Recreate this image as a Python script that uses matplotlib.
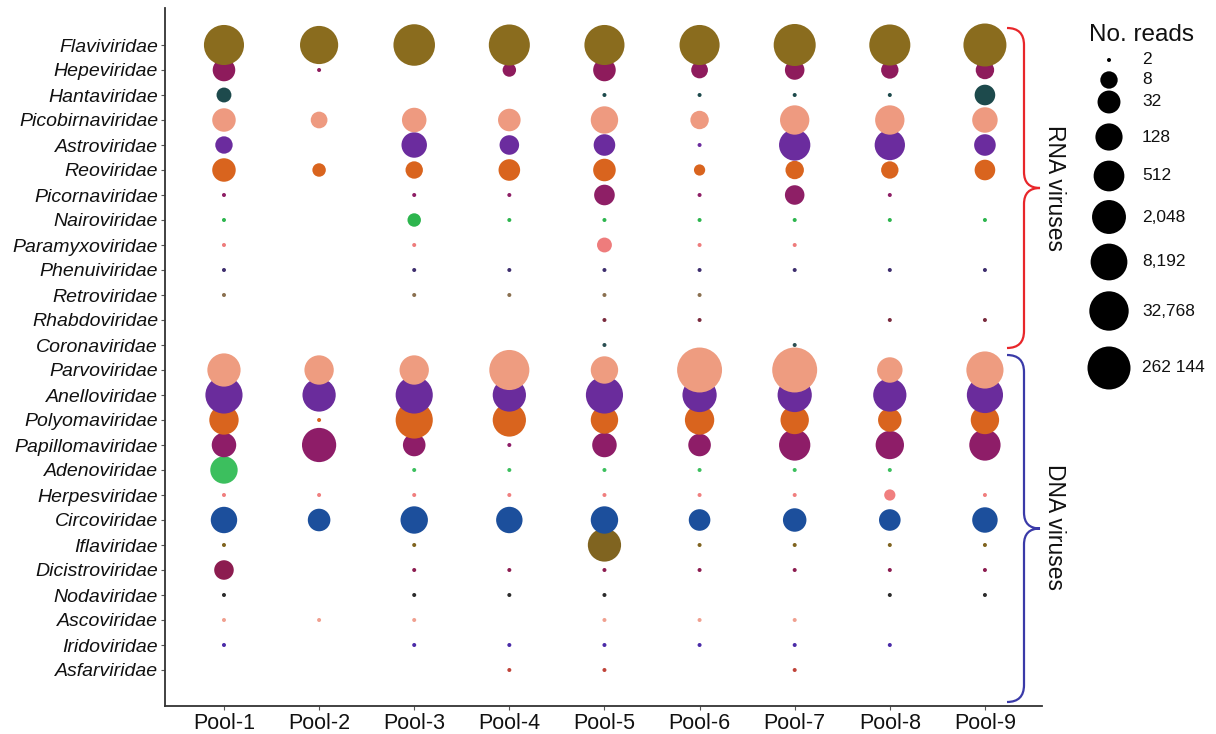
import numpy as np
import matplotlib
matplotlib.use("Agg")
import matplotlib.pyplot as plt
from matplotlib.path import Path
from matplotlib.patches import PathPatch

plt.rcParams["font.family"] = ["Liberation Sans", "DejaVu Sans"]

pools = ["Pool-1", "Pool-2", "Pool-3", "Pool-4", "Pool-5",
         "Pool-6", "Pool-7", "Pool-8", "Pool-9"]

families = ["Flaviviridae", "Hepeviridae", "Hantaviridae", "Picobirnaviridae",
            "Astroviridae", "Reoviridae", "Picornaviridae", "Nairoviridae",
            "Paramyxoviridae", "Phenuiviridae", "Retroviridae", "Rhabdoviridae",
            "Coronaviridae", "Parvoviridae", "Anelloviridae", "Polyomaviridae",
            "Papillomaviridae", "Adenoviridae", "Herpesviridae", "Circoviridae",
            "Iflaviridae", "Dicistroviridae", "Nodaviridae", "Ascoviridae",
            "Iridoviridae", "Asfarviridae"]

# number of reads per family and pool (0 = not detected)
flaviviridae     = [48000, 17000, 110000, 83000, 48000, 48000, 146000, 83000, 262000]
hepeviridae      = [29, 2, 0, 4, 29, 7, 13, 8, 10]
hantaviridae     = [5, 0, 0, 0, 2, 2, 2, 2, 17]
picobirnaviridae = [38, 7, 52, 29, 139, 10, 290, 290, 71]
astroviridae     = [8, 0, 71, 13, 22, 2, 643, 430, 22]
reoviridae       = [38, 4, 8, 22, 29, 3, 10, 8, 17]
picornaviridae   = [2, 0, 2, 2, 17, 2, 13, 2, 0]
nairoviridae     = [2, 0, 4, 2, 2, 2, 2, 2, 2]
paramyxoviridae  = [2, 0, 2, 0, 5, 2, 2, 0, 0]
phenuiviridae    = [2, 0, 2, 2, 2, 2, 2, 2, 2]
retroviridae     = [2, 0, 2, 2, 2, 2, 0, 0, 0]
rhabdoviridae    = [0, 0, 0, 0, 2, 2, 0, 2, 2]
coronaviridae    = [0, 0, 0, 0, 2, 0, 2, 0, 0]
parvoviridae     = [1510, 290, 290, 47900, 139, 876000, 876000, 71, 9950]
anelloviridae    = [9950, 1510, 9950, 1510, 9950, 2370, 2370, 1510, 6080]
polyomaviridae   = [290, 2, 9950, 1510, 139, 290, 199, 38, 199]
papillomaviridae = [52, 2370, 29, 2, 52, 29, 643, 199, 643]
adenoviridae     = [139, 0, 2, 2, 2, 2, 2, 2, 0]
herpesviridae    = [2, 2, 2, 2, 2, 2, 2, 3, 2]
circoviridae     = [98, 29, 139, 98, 139, 22, 38, 22, 71]
iflaviridae      = [2, 0, 2, 0, 1510, 2, 2, 2, 2]
dicistroviridae  = [13, 0, 2, 2, 2, 2, 2, 2, 2]
nodaviridae      = [2, 0, 2, 2, 2, 0, 0, 2, 2]
ascoviridae      = [2, 2, 2, 0, 2, 2, 2, 0, 0]
iridoviridae     = [2, 0, 2, 2, 2, 2, 2, 2, 0]
asfarviridae     = [0, 0, 0, 2, 2, 0, 2, 0, 0]

reads = [flaviviridae, hepeviridae, hantaviridae, picobirnaviridae, astroviridae,
         reoviridae, picornaviridae, nairoviridae, paramyxoviridae, phenuiviridae,
         retroviridae, rhabdoviridae, coronaviridae, parvoviridae, anelloviridae,
         polyomaviridae, papillomaviridae, adenoviridae, herpesviridae,
         circoviridae, iflaviridae, dicistroviridae, nodaviridae, ascoviridae,
         iridoviridae, asfarviridae]

family_colors = ["#8a6c1e", "#8e1b5c", "#1d4a4c", "#ee9a80", "#6b2c9e",
                 "#d9641e", "#8e1f66", "#2db54e", "#ee7c7c", "#3e2e6e",
                 "#8a7050", "#7a2b3e", "#2b4f52", "#ee9c80", "#6a2c9c",
                 "#d9641e", "#8e1d68", "#3cbf5e", "#f07f7f", "#1c4f9c",
                 "#806420", "#8c1c50", "#2c2c2c", "#f0a090", "#4b2ca8",
                 "#c0443a"]

legend_breaks = [2, 8, 32, 128, 512, 2048, 8192, 32768, 262144]
legend_labels = ["2", "8", "32", "128", "512", "2,048", "8,192", "32,768", "262 144"]

DPI = 100
W, H = 1216, 734


def marker_area(v):
    """Bubble area (pt^2): diameter grows with sqrt of rescaled log2 reads."""
    v = np.asarray(v, dtype=float)
    r = np.clip((np.log2(v) - 1.0) / 17.0, 0, None)
    d_px = 4.0 + 39.0 * np.sqrt(r)
    return (d_px * 72.0 / DPI) ** 2


fig = plt.figure(figsize=(W / DPI, H / DPI), dpi=DPI)

# main panel, in pixel placement
left_px, right_px, top_px, bottom_px = 165, 1042, 8, 706
ax = fig.add_axes([left_px / W, 1 - bottom_px / H,
                   (right_px - left_px) / W, (bottom_px - top_px) / H])

n = len(families)
xpos = np.arange(1, len(pools) + 1)
# draw lower rows first so the upper rows sit on top
for i in reversed(range(n)):
    vals = np.array(reads[i], dtype=float)
    mask = vals > 0
    ax.scatter(xpos[mask], np.full(mask.sum(), i), s=marker_area(vals[mask]),
               color=family_colors[i], linewidths=0, zorder=3)

ax.set_xlim(0.38, 9.6)
ax.set_ylim(n - 1 + 1.44, -1.48)
ax.set_xticks(xpos)
ax.set_xticklabels(pools, fontsize=15.5, color="#111111")
ax.set_yticks(np.arange(n))
ax.set_yticklabels(families, fontsize=14, fontstyle="italic", color="#111111")
for s in ["top", "right"]:
    ax.spines[s].set_visible(False)
for s in ["left", "bottom"]:
    ax.spines[s].set_color("#333333")
    ax.spines[s].set_linewidth(1.3)
ax.tick_params(axis="both", length=3, width=0.8, color="#555555", pad=2)

# overlay in pixel coordinates for legend and group braces
ov = fig.add_axes([0, 0, 1, 1], facecolor="none")
ov.set_xlim(0, W)
ov.set_ylim(H, 0)
ov.axis("off")

# size legend
ov.text(1089, 35, "No. reads", fontsize=17.5, ha="left", va="center", color="#111111")
leg_y = [60, 80, 102, 137, 176, 217, 262, 311, 368]
ov.scatter(np.full(len(legend_breaks), 1109), leg_y, s=marker_area(legend_breaks),
           color="black", linewidths=0)
for y, lab in zip(leg_y, legend_labels):
    ov.text(1142, y, lab, fontsize=12.5, ha="left", va="center", color="#111111")


def brace(y0, y1, x_end=1007, x_mid=1024, x_tip=1040, color="red"):
    ym = (y0 + y1) / 2
    c = 17
    verts = [(x_end, y0), (x_mid, y0), (x_mid, y0 + c),
             (x_mid, ym - c + 1),
             (x_mid, ym), (x_tip, ym),
             (x_mid, ym), (x_mid, ym + c - 1),
             (x_mid, y1 - c),
             (x_mid, y1), (x_end, y1)]
    codes = [Path.MOVETO, Path.CURVE3, Path.CURVE3,
             Path.LINETO,
             Path.CURVE3, Path.CURVE3,
             Path.CURVE3, Path.CURVE3,
             Path.LINETO,
             Path.CURVE3, Path.CURVE3]
    ov.add_patch(PathPatch(Path(verts, codes), facecolor="none",
                           edgecolor=color, linewidth=1.6))


brace(28, 348, color="#e8262a")
brace(355, 702, color="#3a3aa8")
ov.text(1055, 188, "RNA viruses", rotation=270, fontsize=16.5,
        ha="center", va="center", color="#111111")
ov.text(1055, 527, "DNA viruses", rotation=270, fontsize=16.5,
        ha="center", va="center", color="#111111")

fig.savefig("out.png", dpi=DPI)
